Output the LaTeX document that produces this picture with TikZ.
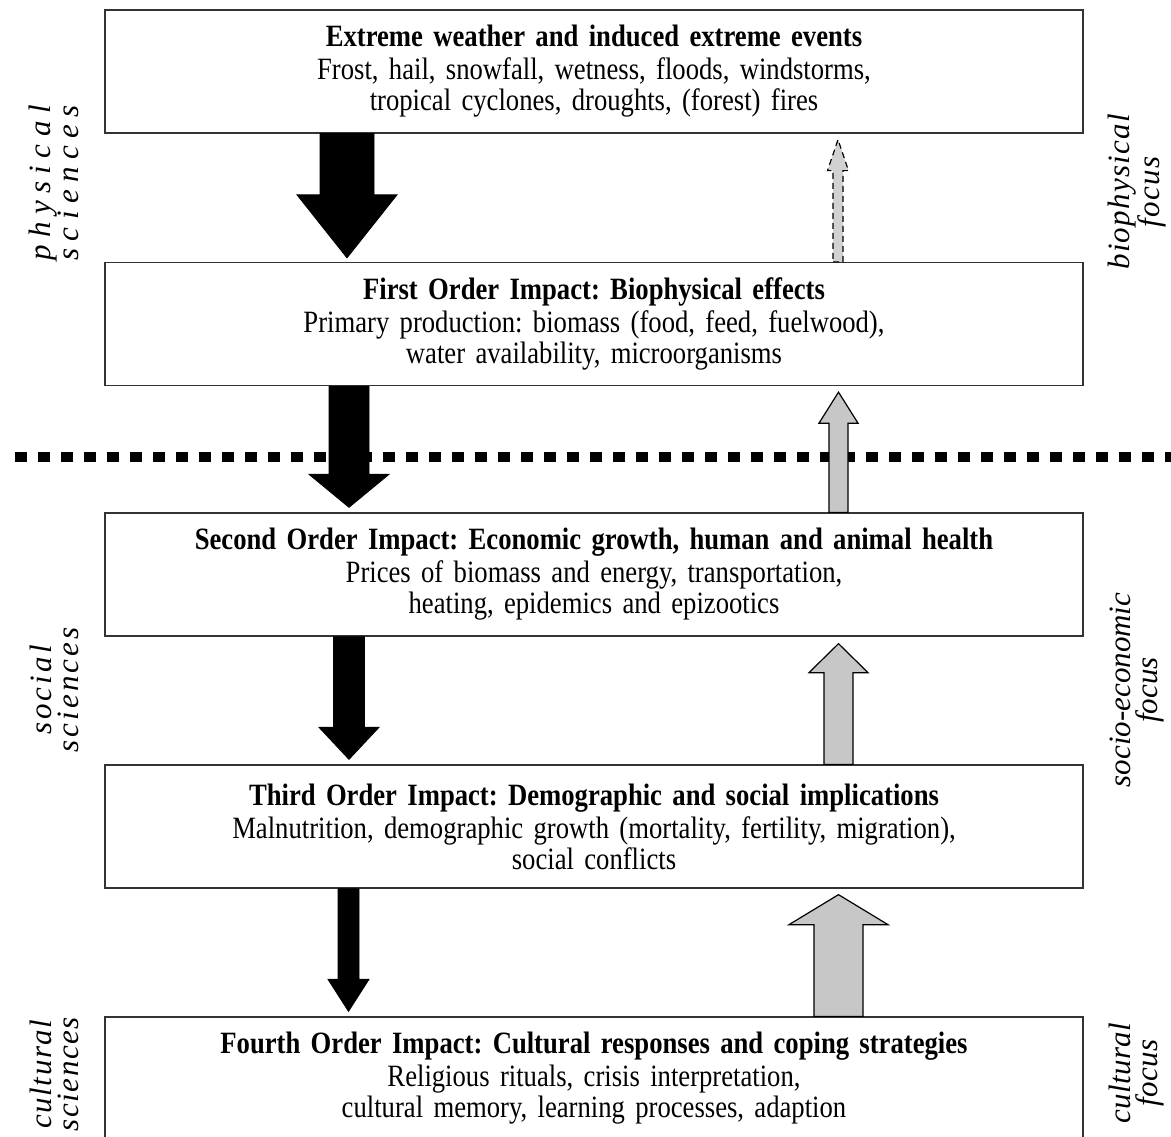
\documentclass[tikz,border=0pt]{standalone}
\usepackage{fontspec}
\setmainfont[FakeStretch=0.86]{Liberation Serif}
\newfontfamily\sidelab{Liberation Serif Italic}
\usetikzlibrary{calc}
\frenchspacing

% block arrow: style, x, tail anchor, tip anchor, gap, shaft half, head half, head length
\newcommand\blockarrow[8]{%
  \draw[#1] let \p1=(#2,0 |- #3), \p2=($(#2,0 |- #4)!#5pt!(#2,0 |- #3)$),
    \p3=($(\p2)!#8pt!(\p1)$) in
    (\x1-#6pt,\y1) -- (\x1+#6pt,\y1) -- (\x1+#6pt,\y3) -- (\x1+#7pt,\y3) -- (\x2,\y2)
    -- (\x1-#7pt,\y3) -- (\x1-#6pt,\y3) -- cycle;}

\begin{document}
\begin{tikzpicture}[x=1pt,y=-1pt,
    impact/.style={draw=black!80, line width=1.3pt, fill=white, minimum width=978pt,
      minimum height=123pt, inner sep=0pt, text width=970pt, align=center,
      font=\fontsize{31}{31}\selectfont},
    down/.style={fill=black, draw=black, line width=0.8pt},
    up/.style={fill=black!22, draw=black, line width=1.2pt},
    updash/.style={fill=black!18, draw=black, line width=1.2pt, dash pattern=on 6pt off 4pt},
    sepline/.style={line width=10pt, dash pattern=on 12pt off 11pt},
    side/.style={rotate=90, align=center,
      font=\sidelab\fontsize{31}{27}\selectfont\addfontfeatures{LetterSpace=#1}}]
  \useasboundingbox (0,0) rectangle (1171,1137);

  \draw[sepline] (15,457) -- (1180,457);

  \node[impact] (b1) at (594,71.5) {\textbf{Extreme weather and induced extreme events}\\[2pt]
    Frost, hail, snowfall, wetness, floods, windstorms,\\tropical cyclones, droughts, (forest) fires};
  \node[impact] (b2) at (594,324) {\textbf{First Order Impact: Biophysical effects}\\[2pt]
    Primary production: biomass (food, feed, fuelwood),\\water availability, microorganisms};
  \node[impact] (b3) at (594,574.5) {\textbf{Second Order Impact: Economic growth, human and animal health}\\[2pt]
    Prices of biomass and energy, transportation,\\heating, epidemics and epizootics};
  \node[impact] (b4) at (594,826.5) {\textbf{Third Order Impact: Demographic and social implications}\\[2pt]
    Malnutrition, demographic growth (mortality, fertility, migration),\\social conflicts};
  \node[impact] (b5) at (594,1078.5) {\textbf{Fourth Order Impact: Cultural responses and coping strategies}\\[2pt]
    Religious rituals, crisis interpretation,\\cultural memory, learning processes, adaption};

  \blockarrow{down}{347}{b1.south}{b2.north}{4}{27}{50}{63}
  \blockarrow{down}{349}{b2.south}{b3.north}{5}{20}{40}{33}
  \blockarrow{down}{349}{b3.south}{b4.north}{5}{15.5}{30}{32}
  \blockarrow{down}{348.5}{b4.south}{b5.north}{5}{10.5}{20.5}{32}

  \blockarrow{updash}{838}{b2.north}{b1.south}{6}{5}{10.5}{31}
  \blockarrow{up}{838.5}{b3.north}{b2.south}{6}{9.5}{19.5}{31}
  \blockarrow{up}{838.5}{b4.north}{b3.south}{7}{14.5}{29.5}{29}
  \blockarrow{up}{838.5}{b5.north}{b4.south}{6}{24.5}{49.5}{30}

  \node[side=24] (ls1) at (54,183) {physical\\sciences};
  \node[side=10] (ls2) at (54,690) {social\\sciences};
  \node[side=5] (ls3) at (54,1074) {cultural\\sciences};
  \node[side=4] (rs1) at (1137,192) {biophysical\\focus};
  \node[side=0] (rs2) at (1137,690) {socio-economic\\focus};
  \node[side=1] (rs3) at (1137,1073) {cultural\\focus};
\end{tikzpicture}
\end{document}
